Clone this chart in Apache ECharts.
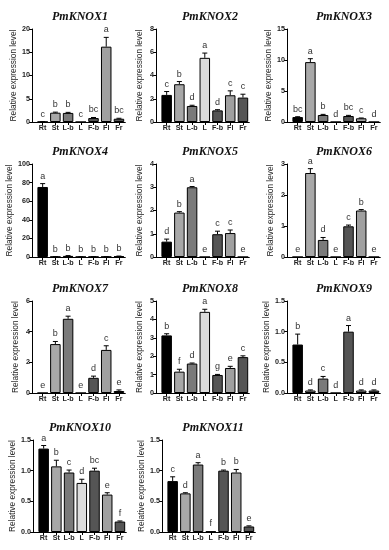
<!DOCTYPE html>
<html><head><meta charset="utf-8">
<script src="https://cdn.jsdelivr.net/npm/echarts@6/dist/echarts.min.js"></script>
<style>html,body{margin:0;padding:0;background:#fff}#c{width:389px;height:550px}</style>
</head><body><div id="c"></div>
<script>
const categories = ['Rt','St','L-b','L','F-b','Fl','Fr'];
const titles = ['PmKNOX1','PmKNOX2','PmKNOX3','PmKNOX4','PmKNOX5','PmKNOX6','PmKNOX7','PmKNOX8','PmKNOX9','PmKNOX10','PmKNOX11'];
const yAxisTitle = 'Relative expression level';
const yMax = [20, 8, 15, 100, 4, 3, 6, 5, 1.5, 1.5, 1.5];
const yStep = [5, 2, 5, 20, 1, 1, 2, 1, 0.5, 0.5, 0.5];

const knox1Mean = [0.05, 2.0, 1.95, 0, 0.85, 16.2, 0.7];
const knox1Err  = [0.03, 0.12, 0.12, 0, 0.12, 2.0, 0.1];
const knox1Sig  = ['c','b','b','c','bc','a','bc'];
const knox2Mean = [2.33, 3.25, 1.38, 5.52, 1.0, 2.3, 2.1];
const knox2Err  = [0.29, 0.23, 0.06, 0.41, 0.06, 0.38, 0.29];
const knox2Sig  = ['c','b','d','a','d','c','c'];
const knox3Mean = [0.8, 9.66, 1.13, 0, 0.97, 0.6, 0];
const knox3Err  = [0.05, 0.55, 0.1, 0, 0.1, 0.05, 0];
const knox3Sig  = ['bc','a','b','d','bc','c','d'];
const knox4Mean = [75.3, 0.3, 1.2, 0.2, 0.3, 0.3, 0.8];
const knox4Err  = [3.6, 0.1, 0.3, 0.05, 0.1, 0.1, 0.2];
const knox4Sig  = ['a','b','b','b','b','b','b'];
const knox5Mean = [0.66, 1.91, 3.0, 0, 0.98, 1.03, 0];
const knox5Err  = [0.11, 0.04, 0.03, 0, 0.13, 0.13, 0];
const knox5Sig  = ['d','b','a','e','c','c','e'];
const knox6Mean = [0, 2.71, 0.55, 0, 0.99, 1.5, 0];
const knox6Err  = [0, 0.14, 0.08, 0, 0.04, 0.03, 0];
const knox6Sig  = ['e','a','d','e','c','b','e'];
const knox7Mean = [0, 3.19, 4.84, 0, 0.99, 2.81, 0.13];
const knox7Err  = [0, 0.17, 0.17, 0, 0.11, 0.27, 0.07];
const knox7Sig  = ['e','b','a','e','d','c','e'];
const knox8Mean = [3.13, 1.16, 1.6, 4.41, 0.98, 1.36, 1.95];
const knox8Err  = [0.09, 0.13, 0.03, 0.14, 0.03, 0.09, 0.07];
const knox8Sig  = ['b','f','d','a','g','e','c'];
const knox9Mean = [0.79, 0.04, 0.235, 0, 1.0, 0.04, 0.04];
const knox9Err  = [0.17, 0.01, 0.035, 0, 0.1, 0.01, 0.01];
const knox9Sig  = ['b','d','c','d','a','d','d'];
const knox10Mean = [1.36, 1.07, 0.97, 0.8, 1.0, 0.61, 0.17];
const knox10Err  = [0.05, 0.1, 0.04, 0.06, 0.04, 0.03, 0.01];
const knox10Sig  = ['a','b','c','d','bc','e','f'];
const knox11Mean = [0.83, 0.63, 1.1, 0.01, 1.0, 0.97, 0.09];
const knox11Err  = [0.07, 0.01, 0.03, 0, 0.01, 0.05, 0.01];
const knox11Sig  = ['c','d','a','f','b','b','e'];

const means = [knox1Mean,knox2Mean,knox3Mean,knox4Mean,knox5Mean,knox6Mean,knox7Mean,knox8Mean,knox9Mean,knox10Mean,knox11Mean];
const errs = [knox1Err,knox2Err,knox3Err,knox4Err,knox5Err,knox6Err,knox7Err,knox8Err,knox9Err,knox10Err,knox11Err];
const sigs = [knox1Sig,knox2Sig,knox3Sig,knox4Sig,knox5Sig,knox6Sig,knox7Sig,knox8Sig,knox9Sig,knox10Sig,knox11Sig];

const barColors = ['#000000','#a8a8a8','#7a7a7a','#dcdcdc','#555555','#a0a0a0','#555555'];

// layout
const axisXs = [[32,156,287],[32,156,287],[32,156,287],[33,162]];
const titleCX = [[75,205,339],[75,205,339],[75,205,339],[75,208]];
const rowTop = [29,164,301,440];
const rowH = [93,93,92,92];
const plotW = 89, shift = 4.3;

const font = 'Liberation Sans, Arial, sans-serif';
const option = {animation:false, title:[], grid:[], xAxis:[], yAxis:[], series:[]};

for (let k = 0; k < 11; k++) {
  const r = Math.floor(k/3), c = k%3;
  const ax = axisXs[r][c];
  const top = rowTop[r], h = rowH[r];
  const gA = option.grid.length;
  option.grid.push({left: ax+shift, top: top, width: plotW, height: h});
  option.grid.push({left: ax, top: top, width: plotW+shift, height: h});
  option.title.push({
    text: titles[k], left: titleCX[r][c], top: top-23, textAlign:'center',
    textStyle:{fontFamily:'Liberation Serif', fontStyle:'italic', fontWeight:'bold', fontSize:12, color:'#111'}
  });
  option.xAxis.push({
    type:'category', gridIndex:gA, data:categories,
    axisLine:{show:false},
    axisTick:{show:true, alignWithLabel:true, length:3, lineStyle:{color:'#000', width:1}},
    axisLabel:{fontSize:7.2, fontWeight:'bold', color:'#222', margin:3, interval:0, fontFamily:font}
  });
  const fmt = yStep[k] < 1 ? (v)=>v.toFixed(1) : (v)=>String(v);
  option.yAxis.push({
    type:'value', gridIndex:gA, min:0, max:yMax[k], interval:yStep[k], offset:shift,
    name:yAxisTitle, nameLocation:'middle', nameGap:12,
    nameTextStyle:{fontSize:8.3, color:'#222', fontFamily:font},
    axisLine:{show:true, lineStyle:{color:'#000', width:1}},
    axisTick:{show:true, length:3, lineStyle:{color:'#000', width:1}},
    axisLabel:{fontSize:7.2, fontWeight:'bold', color:'#222', margin:2, formatter:fmt, fontFamily:font},
    splitLine:{show:false}
  });
  option.xAxis.push({type:'value', gridIndex:gA+1, min:0, max:1, axisLine:{show:true, onZero:false, lineStyle:{color:'#000', width:1}}, axisTick:{show:false}, axisLabel:{show:false}, splitLine:{show:false}});
  option.yAxis.push({type:'value', gridIndex:gA+1, min:0, max:1, show:false});

  const xi = option.xAxis.length - 2, yi = option.yAxis.length - 2;
  option.series.push({
    type:'bar', xAxisIndex:xi, yAxisIndex:yi, data:means[k], barWidth:10.5,
    itemStyle:{color:(p)=>barColors[p.dataIndex], borderColor:'#000', borderWidth:1},
    z:2
  });
  const mk = means[k], ek = errs[k], sk = sigs[k];
  option.series.push({
    type:'custom', xAxisIndex:xi, yAxisIndex:yi, z:3,
    data: mk.map((m,i)=>[i, m, ek[i]]),
    renderItem:(params, api)=>{
      const i = api.value(0), m = api.value(1), e = api.value(2);
      const base = api.coord([i, m]);
      const tp = api.coord([i, m+e]);
      const children = [];
      if (e > 0) {
        children.push({type:'line', shape:{x1:base[0], y1:base[1], x2:tp[0], y2:tp[1]}, style:{stroke:'#000', lineWidth:1}});
        children.push({type:'line', shape:{x1:tp[0]-2.5, y1:tp[1], x2:tp[0]+2.5, y2:tp[1]}, style:{stroke:'#000', lineWidth:1}});
      }
      children.push({type:'text', style:{text:sk[params.dataIndex], x:tp[0], y:tp[1]-3, align:'center', verticalAlign:'bottom', fontSize:9, fill:'#333', fontFamily:font}});
      return {type:'group', children};
    }
  });
}
const chart = echarts.init(document.getElementById('c'), null, {renderer:'canvas'});
chart.setOption(option);
</script></body></html>
